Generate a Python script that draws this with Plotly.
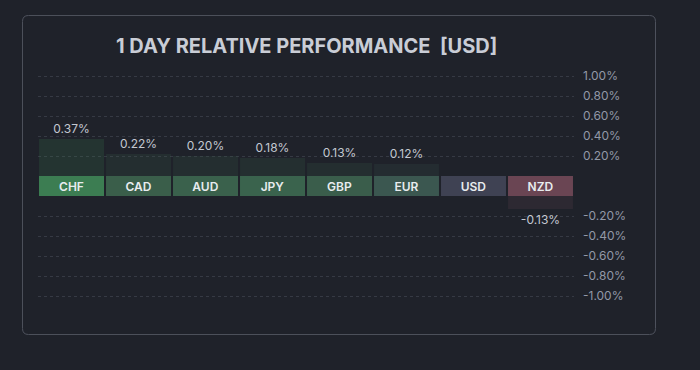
import plotly.graph_objects as go

# ---- data ----
currencies = ["CHF", "CAD", "AUD", "JPY", "GBP", "EUR", "USD", "NZD"]
performance = [0.37, 0.22, 0.20, 0.18, 0.13, 0.12, 0.00, -0.13]
pos_ticks = [0.2, 0.4, 0.6, 0.8, 1.0]
neg_ticks = [-0.2, -0.4, -0.6, -0.8, -1.0]
title_text = "1 DAY RELATIVE PERFORMANCE  [USD]"

# ---- style ----
cell_colors = ["#3c7d52", "#3a5e4a", "#3a614c", "#3a634d", "#3a5d4b", "#3b5750", "#3f4253", "#6a4553"]
BG = "#1f222a"
GRID = "#363a44"
TICK = "#9298a7"
FONT = "Inter"
W, H = 700, 370


def rgba(hexc, a):
    h = hexc.lstrip("#")
    r, g, b = int(h[0:2], 16), int(h[2:4], 16), int(h[4:6], 16)
    return f"rgba({r},{g},{b},{a})"


def px_x(p):
    return p / W


def px_y(p):
    return 1 - p / H


bar_fill = [rgba(c, 0.2) for c in cell_colors]
labels = ["" if v == 0 else f"{v:.2f}%" for v in performance]
pos_vals = [v if v > 0 else None for v in performance]
neg_vals = [v if v < 0 else None for v in performance]

fig = go.Figure()

fig.add_trace(go.Bar(
    x=currencies, y=pos_vals, text=[t if v and v > 0 else "" for t, v in zip(labels, performance)],
    textposition="outside", cliponaxis=False, marker=dict(color=bar_fill, line=dict(width=0)),
    textfont=dict(color="#c3c8d1", size=12, family=FONT), xaxis="x", yaxis="y",
    hoverinfo="skip", showlegend=False,
))
fig.add_trace(go.Bar(
    x=currencies, y=[1] * len(currencies), text=currencies, textposition="inside",
    insidetextanchor="middle", textangle=0, constraintext="none",
    marker=dict(color=cell_colors, line=dict(width=0)),
    textfont=dict(color="#e8ecef", size=12, family=FONT, weight=600), xaxis="x2", yaxis="y2",
    hoverinfo="skip", showlegend=False,
))
fig.add_trace(go.Bar(
    x=currencies, y=neg_vals, text=[t if v and v < 0 else "" for t, v in zip(labels, performance)],
    textposition="outside", cliponaxis=False, marker=dict(color=bar_fill, line=dict(width=0)),
    textfont=dict(color="#c3c8d1", size=12, family=FONT), xaxis="x3", yaxis="y3",
    hoverinfo="skip", showlegend=False,
))

xdom = [px_x(38), px_x(574)]
common_x = dict(domain=xdom, showticklabels=False, showgrid=False, zeroline=False,
                showline=False, ticks="", type="category", automargin=False)

yaxis_common = dict(showgrid=True, gridcolor=GRID, griddash="dot", gridwidth=1,
                    zeroline=False, showline=False, side="right", ticks="", automargin=False,
                    tickfont=dict(color=TICK, size=12, family=FONT), ticklabelstandoff=8)

fig.update_layout(
    template="none",
    width=W, height=H, margin=dict(l=0, r=0, t=0, b=0, pad=0, autoexpand=False),
    paper_bgcolor=BG, plot_bgcolor=BG, bargap=0.03,
    font=dict(family=FONT),
    xaxis=dict(**common_x, anchor="y"),
    xaxis2=dict(**common_x, anchor="y2", matches="x"),
    xaxis3=dict(**common_x, anchor="y3", matches="x"),
    yaxis=dict(**yaxis_common, domain=[px_y(176), px_y(72)], range=[0, 1.04],
               tickvals=pos_ticks, ticktext=[f"{v:.2f}%" for v in pos_ticks], anchor="x"),
    yaxis2=dict(domain=[px_y(196), px_y(176)], range=[0, 1], visible=False, anchor="x2",
                automargin=False),
    yaxis3=dict(**yaxis_common, domain=[px_y(300), px_y(196)], range=[-1.04, 0],
                tickvals=neg_ticks, ticktext=[f"{v:.2f}%" for v in neg_ticks], anchor="x3"),
    annotations=[dict(
        text=f"<b>{title_text}</b>", x=px_x(306), y=px_y(46), xref="paper", yref="paper",
        xanchor="center", yanchor="middle", showarrow=False,
        font=dict(size=20, color="#c9cdd6", family=FONT),
    )],
)

# rounded card border
x0, x1, y0, y1, r = 22.5, 655.5, 15.5, 334.5, 6
def P(x, y):
    return f"{px_x(x):.5f},{px_y(y):.5f}"
path = (f"M {P(x0 + r, y0)} L {P(x1 - r, y0)} Q {P(x1, y0)} {P(x1, y0 + r)} "
        f"L {P(x1, y1 - r)} Q {P(x1, y1)} {P(x1 - r, y1)} L {P(x0 + r, y1)} "
        f"Q {P(x0, y1)} {P(x0, y1 - r)} L {P(x0, y0 + r)} Q {P(x0, y0)} {P(x0 + r, y0)} Z")
fig.add_shape(type="path", path=path, xref="paper", yref="paper",
              line=dict(color="#4d515c", width=1), fillcolor="rgba(0,0,0,0)", layer="below")

fig.write_html("out.html", config={"displayModeBar": False},
               post_script="document.body.style.margin='0';document.body.style.overflow='hidden';"
                           f"document.body.style.background='{BG}';")
